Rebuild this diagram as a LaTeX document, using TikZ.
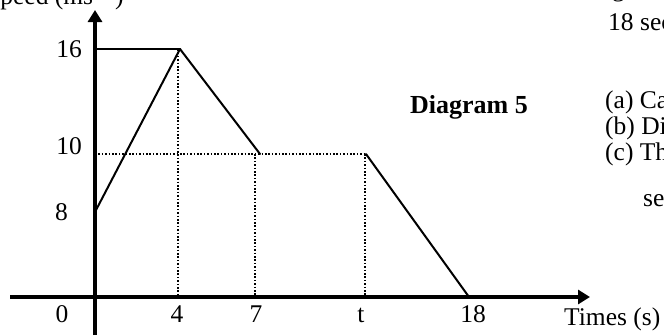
\documentclass[tikz,border=0pt]{standalone}
\usepackage{fontspec}
\setmainfont{Liberation Serif}
\usetikzlibrary{arrows.meta}
\newcommand{\lblfont}{\fontsize{25.5pt}{30pt}\selectfont}
\newcommand{\ttlfont}{\fontsize{26pt}{30pt}\selectfont\bfseries}
\begin{document}
\begin{tikzpicture}[x=1pt,y=-1pt,
  lbl/.style={inner sep=0pt,font=\lblfont},
  ttl/.style={inner sep=0pt,font=\ttlfont},
  axis/.style={line width=3.3pt,-{Triangle[length=12pt,width=14pt]}},
  graph/.style={line width=2pt,line cap=round,line join=round},
  guide/.style={line width=1.6pt,dash pattern=on 1.6pt off 1.8pt}]
\useasboundingbox (0,0) rectangle (664,335);
\clip (0,0) rectangle (664,335);
% key points
\coordinate (xs) at (10,297);
\coordinate (xe) at (590,297);
\coordinate (ys) at (95,335);
\coordinate (ye) at (95,10);
\coordinate (p8) at (95,212);
\coordinate (p16) at (95,49);
\coordinate (p10) at (95,154);
\coordinate (peak) at (180,49);
\coordinate (a7) at (260,154);
\coordinate (at) at (366,154);
\coordinate (a18) at (469,297);
\coordinate (d4t) at (178,49);
\coordinate (d4b) at (178,297);
\coordinate (d7t) at (255,154);
\coordinate (d7b) at (255,297);
\coordinate (dtt) at (365,154);
\coordinate (dtb) at (365,297);
% guides
\draw[guide] (p10) -- (at);
\draw[guide] (d4t) -- (d4b);
\draw[guide] (d7t) -- (d7b);
\draw[guide] (dtt) -- (dtb);
% graph
\draw[graph] (p16) -- (peak);
\draw[graph] (p8) -- (peak) -- (a7);
\draw[graph] (at) -- (a18);
% axes
\draw[axis] (xs) -- (xe);
\draw[axis] (ys) -- (ye);
% labels
\node[lbl,anchor=base west] (ylab) at (-14,4) {Speed (ms$^{-1}$)};
\node[lbl,anchor=base east] (l16) at (82,57) {16};
\node[lbl,anchor=base east] (l10) at (82,154) {10};
\node[lbl,anchor=base east] (l8) at (68,220) {8};
\node[lbl,anchor=base] (l0) at (62,322) {0};
\node[lbl,anchor=base] (l4) at (177,322) {4};
\node[lbl,anchor=base] (l7) at (256,322) {7};
\node[lbl,anchor=base] (lt) at (361,322) {t};
\node[lbl,anchor=base] (l18) at (473,322) {18};
\node[lbl,anchor=base west] (xlab) at (564,325) {Times (s)};
\node[ttl,anchor=base west] (title) at (410,113) {Diagram 5};
% cropped side text
\node[lbl,anchor=base west] (r0) at (612,-4) {g};
\node[lbl,anchor=base west] (r1) at (608,30) {18 sec};
\node[lbl,anchor=base west] (ra) at (605,108) {(a) Cal};
\node[lbl,anchor=base west] (rb) at (605,134) {(b) Dis};
\node[lbl,anchor=base west] (rc) at (605,160) {(c) The};
\node[lbl,anchor=base west] (rd) at (643,206) {sec};
\end{tikzpicture}
\end{document}
